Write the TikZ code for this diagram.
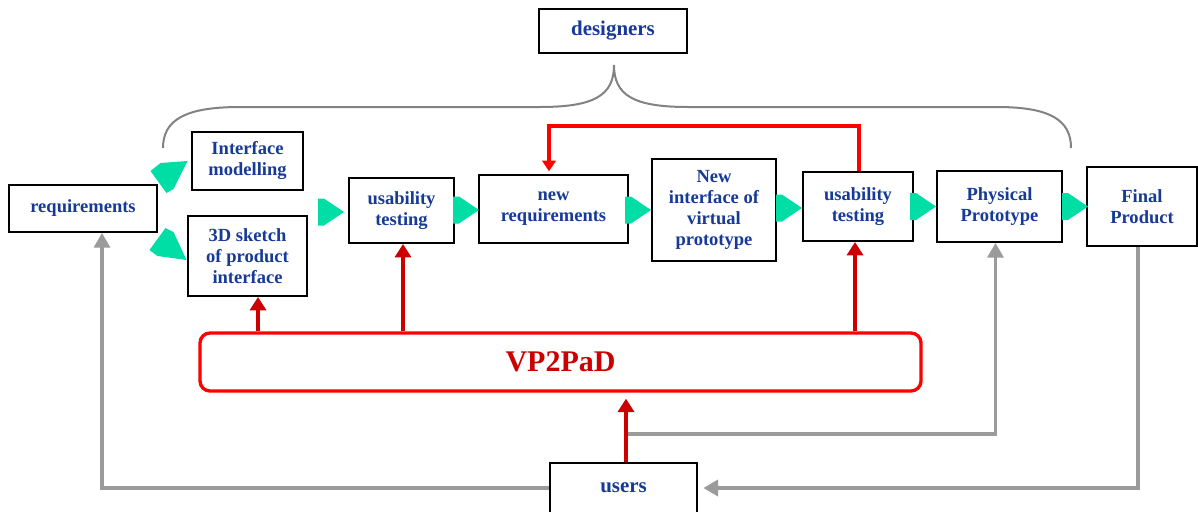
\documentclass[tikz,border=0pt]{standalone}
\usepackage{fontspec}
\setmainfont{Liberation Serif}
\usetikzlibrary{arrows.meta,calc}
\definecolor{txtblue}{RGB}{22,58,150}
\definecolor{gfill}{RGB}{0,222,165}
\definecolor{darkred}{RGB}{204,0,0}
\definecolor{brightred}{RGB}{255,0,0}
\definecolor{lgray}{RGB}{155,155,155}
\definecolor{bgray}{RGB}{130,130,130}
\begin{document}
\begin{tikzpicture}[x=0.75pt,y=-0.75pt,
  box/.style={draw=black,line width=1.5pt,fill=white,inner sep=0pt,align=center,
    font=\fontsize{13.9}{15.75}\selectfont\bfseries,text=txtblue},
  bigbox/.style={box,font=\fontsize{15.7}{18}\selectfont\bfseries},
  vpbox/.style={draw=brightred,line width=2.5pt,rounded corners=7.5pt,inner sep=0pt,
    font=\fontsize{22.5}{26}\selectfont\bfseries,text=darkred},
  redarr/.style={draw=darkred,line width=3pt,-{Triangle[width=12pt,length=10pt]}},
  looparr/.style={draw=brightred,line width=2.5pt,-{Triangle[width=10pt,length=8pt]}},
  grayarr/.style={draw=lgray,line width=2.5pt,-{Triangle[width=12pt,length=11pt]}},
  bracestyle/.style={draw=bgray,line width=1.5pt},
  gtip/.pic={\fill[gfill] (-26,-13.5) -- (-20,-13.5) -- (0,0) -- (-20,13.5) -- (-26,13.5) -- cycle;},
  gup/.pic={\fill[gfill] (0,0) -- (-27,2) -- (-37,10) -- (-21,32) -- (-14,28) -- cycle;},
  gdown/.pic={\fill[gfill] (0,0) -- (-29,-4) -- (-37,-10) -- (-21,-32) -- (-13,-28) -- cycle;}
]
\fill[white] (0,0) rectangle (1198,511);
\useasboundingbox (0,0) rectangle (1198,511);

% nodes
\node[bigbox,minimum width=111pt,minimum height=33pt] (des) at (613,31) {designers};
\node[box,minimum width=111pt,minimum height=35.25pt] (req) at (83,208.5) {requirements};
\node[box,minimum width=83.25pt,minimum height=43.5pt] (imod) at (247.5,161) {Interface\\modelling};
\node[box,minimum width=89.25pt,minimum height=60pt] (sketch) at (247.5,256) {3D sketch\\of product\\interface};
\node[box,minimum width=78.75pt,minimum height=48.75pt] (usab1) at (401.5,210.5) {usability\\testing};
\node[box,minimum width=111.75pt,minimum height=51pt] (newreq) at (553.5,209) {new\\requirements};
\node[box,minimum width=93pt,minimum height=76.5pt] (newint) at (714,210) {New\\interface of\\virtual\\prototype};
\node[box,minimum width=82.5pt,minimum height=51.75pt] (usab2) at (858,206.5) {usability\\testing};
\node[box,minimum width=93.75pt,minimum height=53.25pt] (phys) at (999.5,206.5) {Physical\\Prototype};
\node[box,minimum width=82.5pt,minimum height=59.25pt] (final) at (1142,206.5) {Final\\Product};
\node[vpbox,minimum width=540.75pt,minimum height=43.5pt] (vp) at (560.5,362) {VP2PaD};
\node[bigbox,minimum width=110.25pt,minimum height=37.5pt] (users) at (623.5,488) {users};

% brace under designers
\draw[bracestyle] (163,148) .. controls (163,120) and (185,107) .. (240,107) -- (540,107)
  .. controls (595,107) and (614,95) .. (614,65)
  .. controls (614,95) and (633,107) .. (688,107) -- (997,107)
  .. controls (1050,107) and (1071,120) .. (1071,148);

% green arrow tips
\path ($(imod.west)+(-3.5,0)$) pic {gup};
\path ($(sketch.west)+(-0.5,4)$) pic {gdown};
\path ($(usab1.west)+(-4,1.5)$) pic {gtip};
\path ($(newreq.west)+(1,1)$) pic {gtip};
\path (newint.west) pic {gtip};
\path ($(usab2.west)+(0,1.5)$) pic {gtip};
\path (phys.west) pic {gtip};
\path ($(final.west)+(2,0)$) pic {gtip};

% red arrows from VP2PaD
\coordinate (a1) at ($(sketch.south)+(10.5,0)$);
\coordinate (a2) at ($(usab1.south)+(1.5,0)$);
\coordinate (a3) at ($(usab2.south)+(-3,0)$);
\coordinate (a4) at ($(users.north)+(2.5,0)$);
\draw[redarr] (a1 |- vp.north) -- (a1);
\draw[redarr] (a2 |- vp.north) -- (a2);
\draw[redarr] (a3 |- vp.north) -- (a3);
\draw[redarr,shorten >=4.5pt] (a4) -- (a4 |- vp.south);

% feedback loop
\draw[looparr,shorten >=2pt] ($(usab2.north)+(1,0)$) -- ++(0,-45) -| ($(newreq.north)+(-4.5,0)$);

% gray connectors
\coordinate (b1) at ($(req.south)+(19,0)$);
\draw[grayarr] (users.west) -| (b1);
\coordinate (b2) at ($(final.south)+(-4,0)$);
\draw[grayarr,shorten >=4pt] (b2) |- (users.east);
\coordinate (pstart) at (628,434);
\coordinate (b3) at ($(phys.south)+(-4,0)$);
\draw[grayarr] (pstart) -| (b3);
\end{tikzpicture}
\end{document}
